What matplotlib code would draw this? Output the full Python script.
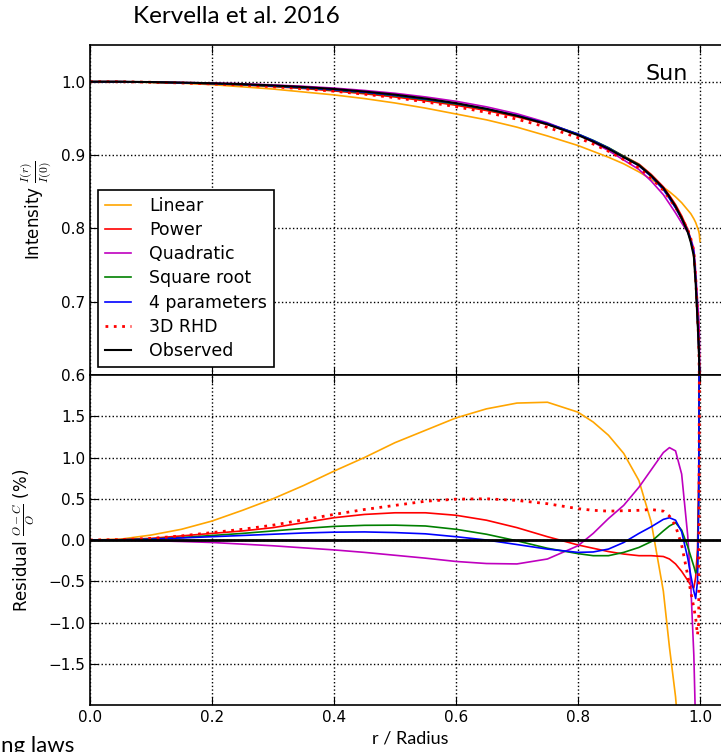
import numpy as np
import matplotlib
matplotlib.use('Agg')
from matplotlib import pyplot as plt

# radius grid (r / R) and values
radius = [0.0, 0.05, 0.1, 0.15, 0.2, 0.25, 0.3, 0.35, 0.4, 0.45, 0.5, 0.55, 0.6,
          0.65, 0.7, 0.75, 0.8, 0.825, 0.85, 0.875, 0.9, 0.92, 0.94, 0.95, 0.96,
          0.97, 0.98, 0.985, 0.99, 0.993, 0.996, 0.998, 0.999, 1.0]

# top panel: intensity I(r)/I(0)
observed = [1.0, 1.0, 0.9995, 0.9988, 0.9979, 0.9967, 0.9949, 0.9928, 0.9901,
            0.9866, 0.9824, 0.9771, 0.9708, 0.9630, 0.9535, 0.9419, 0.9272,
            0.9183, 0.9084, 0.8970, 0.8860, 0.8720, 0.8550, 0.8430, 0.8300,
            0.8140, 0.7950, 0.7810, 0.7620, 0.7250, 0.6750, 0.6400, 0.6100, 0.5000]
linear_int = [1.0, 1.0, 0.999, 0.998, 0.996, 0.993, 0.990, 0.986, 0.982, 0.977,
              0.971, 0.964, 0.956, 0.948, 0.938, 0.926, 0.913, 0.905, 0.897,
              0.888, 0.877, 0.867, 0.856, 0.850, 0.843, 0.835, 0.825, 0.820,
              0.813, 0.808, 0.801, 0.796, 0.792, 0.782]

# bottom panel: residual (O-C)/O in %
res_linear = [0, 0.01, 0.06, 0.13, 0.23, 0.36, 0.50, 0.66, 0.835, 1.0, 1.18, 1.33,
              1.48, 1.59, 1.66, 1.67, 1.55, 1.43, 1.27, 1.05, 0.72, 0.22, -0.62,
              -1.3, -1.9, -2.8, -4.2, -5.2, -6.5, -7.5, -9, -11, -13, -30]
res_power = [0, 0.005, 0.02, 0.05, 0.08, 0.11, 0.15, 0.21, 0.27, 0.31, 0.33, 0.33,
             0.30, 0.24, 0.15, 0.04, -0.06, -0.10, -0.14, -0.17, -0.19, -0.19,
             -0.20, -0.23, -0.29, -0.38, -0.49, -0.55, -0.58, -0.45, -0.1, 0.8, 2.5, 8]
res_quad = [0, -0.002, -0.008, -0.018, -0.03, -0.05, -0.07, -0.095, -0.12, -0.15,
            -0.185, -0.22, -0.26, -0.285, -0.29, -0.23, -0.07, 0.08, 0.26, 0.42,
            0.64, 0.85, 1.06, 1.12, 1.08, 0.80, 0.05, -0.55, -1.4, -2.3, -4, -6, -8, -15]
res_sqrt = [0, 0.003, 0.013, 0.03, 0.055, 0.08, 0.11, 0.14, 0.165, 0.178, 0.18,
            0.17, 0.13, 0.07, -0.01, -0.10, -0.165, -0.19, -0.19, -0.15, -0.09,
            -0.02, 0.11, 0.17, 0.21, 0.12, -0.08, -0.2, -0.32, -0.4, -0.35, 0.5, 2.5, 8]
res_4par = [0, 0.002, 0.01, 0.025, 0.04, 0.055, 0.07, 0.085, 0.095, 0.098, 0.09,
            0.075, 0.04, 0.0, -0.055, -0.11, -0.15, -0.145, -0.11, -0.03, 0.08,
            0.16, 0.25, 0.27, 0.24, 0.10, -0.22, -0.43, -0.62, -0.71, -0.5, 0.5, 3, 8]
res_3d = [0, 0.005, 0.02, 0.05, 0.09, 0.13, 0.18, 0.245, 0.31, 0.37, 0.42, 0.47,
          0.495, 0.50, 0.48, 0.44, 0.38, 0.36, 0.35, 0.355, 0.36, 0.37, 0.35, 0.29,
          0.17, -0.06, -0.43, -0.63, -0.82, -0.95, -1.15, -1.0, 2, 8]

plt.rcParams['mathtext.fontset'] = 'cm'
plt.rcParams['font.family'] = 'DejaVu Sans'

r = np.array(radius)
obs = np.array(observed)

fig = plt.figure(figsize=(7.21, 7.52), dpi=100)
ax1 = fig.add_axes([0.1248, 0.5013, 0.8883, 0.4388])
ax2 = fig.add_axes([0.1248, 0.0625, 0.8883, 0.4388], sharex=ax1)

lw = 1.2
# models in the top panel follow from the observed profile and residuals
ax1.plot(r, linear_int, color='orange', lw=lw, label='Linear')
ax1.plot(r, obs * (1 - np.array(res_power) / 100), color='r', lw=lw, label='Power')
ax1.plot(r, obs * (1 - np.array(res_quad) / 100), color='m', lw=lw, label='Quadratic')
ax1.plot(r, obs * (1 - np.array(res_sqrt) / 100), color='g', lw=lw, label='Square root')
ax1.plot(r, obs * (1 - np.array(res_4par) / 100), color='b', lw=lw, label='4 parameters')
ax1.plot(r, obs * (1 - np.array(res_3d) / 100), color='r', lw=2, ls=(0, (1, 2)), label='3D RHD')
ax1.plot(r, obs, color='k', lw=1.5, label='Observed')

ax2.plot(r, res_linear, color='orange', lw=lw)
ax2.plot(r, res_power, color='r', lw=lw)
ax2.plot(r, res_quad, color='m', lw=lw)
ax2.plot(r, res_sqrt, color='g', lw=lw)
ax2.plot(r, res_4par, color='b', lw=lw)
ax2.plot(r, res_3d, color='r', lw=2, ls=(0, (1, 2)))
ax2.axhline(0, color='k', lw=2)

ax1.set_xlim(0, 1.05)
ax1.set_ylim(0.6, 1.05)
ax2.set_ylim(-2, 2)
ax1.set_yticks([0.6, 0.7, 0.8, 0.9, 1.0])
ax2.set_yticks([-1.5, -1.0, -0.5, 0.0, 0.5, 1.0, 1.5])
ax2.set_xticks([0.0, 0.2, 0.4, 0.6, 0.8, 1.0])
plt.setp(ax1.get_xticklabels(), visible=False)

for ax in (ax1, ax2):
    ax.grid(True, color='k', ls=':', lw=1.0)
    ax.tick_params(direction='in', top=True, right=True, length=6, labelsize=11)
    for sp in ax.spines.values():
        sp.set_linewidth(1.2)

leg = ax1.legend(loc='lower left', fontsize=12.5, fancybox=False, framealpha=1,
                 edgecolor='k', handlelength=1.5, handletextpad=1.05,
                 labelspacing=0.36, borderpad=0.4, borderaxespad=0.46)
leg.get_frame().set_linewidth(1.2)

ax1.text(0.98, 1.003, 'Sun', ha='right', va='baseline', fontsize=16)
ax1.set_ylabel(r'Intensity $\frac{I(r)}{I(0)}$', fontsize=12)
ax2.set_ylabel(r'Residual $\frac{O-C}{O}$ (%)', fontsize=12)
ax2.set_xlabel('r / Radius', fontsize=13, family='Lato')
ax1.yaxis.set_label_coords(-0.056, 0.5)
ax2.yaxis.set_label_coords(-0.082, 0.5)

fig.text(0.185, 1 - 23 / 752, 'Kervella et al. 2016', fontsize=17.5, family='Lato',
         va='baseline')
fig.text(0.002, 0.021, 'ng laws', fontsize=16, family='Lato', va='top')

fig.savefig('out.png', dpi=100)
